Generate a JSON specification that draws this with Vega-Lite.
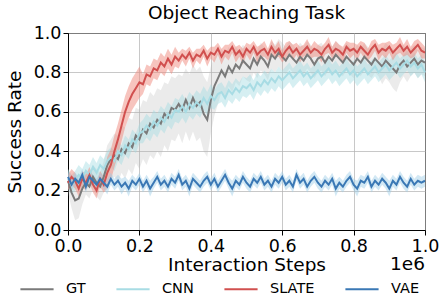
{
"$schema": "https://vega.github.io/schema/vega-lite/v6.json",
"width": 357, "height": 197,
"padding": {"left": 5, "top": 3, "right": 0, "bottom": 0},
"title": {"text": "Object Reaching Task", "fontSize": 18.5, "fontWeight": "normal", "font": "DejaVu Sans", "color": "black", "offset": 2},
"data": {"values": [
{"s":"GT","x":0,"m":0.25,"l":0.19,"h":0.31},{"s":"GT","x":0.01,"m":0.19,"l":0.11,"h":0.27},{"s":"GT","x":0.02,"m":0.15,"l":0.05,"h":0.25},{"s":"GT","x":0.03,"m":0.16,"l":0.06,"h":0.26},{"s":"GT","x":0.04,"m":0.21,"l":0.13,"h":0.29},{"s":"GT","x":0.05,"m":0.24,"l":0.18,"h":0.30},{"s":"GT","x":0.06,"m":0.22,"l":0.16,"h":0.28},{"s":"GT","x":0.07,"m":0.27,"l":0.21,"h":0.33},{"s":"GT","x":0.08,"m":0.24,"l":0.17,"h":0.31},{"s":"GT","x":0.09,"m":0.22,"l":0.15,"h":0.29},
{"s":"GT","x":0.10,"m":0.27,"l":0.19,"h":0.35},{"s":"GT","x":0.11,"m":0.33,"l":0.23,"h":0.43},{"s":"GT","x":0.12,"m":0.36,"l":0.26,"h":0.46},{"s":"GT","x":0.13,"m":0.38,"l":0.27,"h":0.49},{"s":"GT","x":0.14,"m":0.36,"l":0.24,"h":0.48},{"s":"GT","x":0.15,"m":0.41,"l":0.29,"h":0.53},{"s":"GT","x":0.16,"m":0.39,"l":0.26,"h":0.52},{"s":"GT","x":0.17,"m":0.44,"l":0.31,"h":0.57},{"s":"GT","x":0.18,"m":0.42,"l":0.28,"h":0.56},{"s":"GT","x":0.19,"m":0.48,"l":0.34,"h":0.62},
{"s":"GT","x":0.20,"m":0.46,"l":0.31,"h":0.61},{"s":"GT","x":0.21,"m":0.51,"l":0.36,"h":0.66},{"s":"GT","x":0.22,"m":0.49,"l":0.33,"h":0.65},{"s":"GT","x":0.23,"m":0.54,"l":0.38,"h":0.70},{"s":"GT","x":0.24,"m":0.52,"l":0.36,"h":0.68},{"s":"GT","x":0.25,"m":0.56,"l":0.40,"h":0.72},{"s":"GT","x":0.26,"m":0.54,"l":0.37,"h":0.71},{"s":"GT","x":0.27,"m":0.59,"l":0.43,"h":0.75},{"s":"GT","x":0.28,"m":0.57,"l":0.40,"h":0.74},{"s":"GT","x":0.29,"m":0.62,"l":0.46,"h":0.78},
{"s":"GT","x":0.30,"m":0.61,"l":0.45,"h":0.77},{"s":"GT","x":0.31,"m":0.64,"l":0.49,"h":0.79},{"s":"GT","x":0.32,"m":0.61,"l":0.44,"h":0.78},{"s":"GT","x":0.33,"m":0.66,"l":0.50,"h":0.82},{"s":"GT","x":0.34,"m":0.62,"l":0.45,"h":0.79},{"s":"GT","x":0.35,"m":0.67,"l":0.50,"h":0.84},{"s":"GT","x":0.36,"m":0.63,"l":0.45,"h":0.81},{"s":"GT","x":0.37,"m":0.65,"l":0.47,"h":0.83},{"s":"GT","x":0.38,"m":0.59,"l":0.40,"h":0.78},{"s":"GT","x":0.39,"m":0.56,"l":0.37,"h":0.75},
{"s":"GT","x":0.40,"m":0.66,"l":0.49,"h":0.83},{"s":"GT","x":0.41,"m":0.73,"l":0.58,"h":0.88},{"s":"GT","x":0.42,"m":0.77,"l":0.64,"h":0.90},{"s":"GT","x":0.43,"m":0.81,"l":0.70,"h":0.92},{"s":"GT","x":0.44,"m":0.78,"l":0.67,"h":0.89},{"s":"GT","x":0.45,"m":0.83,"l":0.73,"h":0.93},{"s":"GT","x":0.46,"m":0.80,"l":0.70,"h":0.90},{"s":"GT","x":0.47,"m":0.84,"l":0.75,"h":0.93},{"s":"GT","x":0.48,"m":0.82,"l":0.73,"h":0.91},{"s":"GT","x":0.49,"m":0.86,"l":0.78,"h":0.94},
{"s":"GT","x":0.50,"m":0.84,"l":0.76,"h":0.92},{"s":"GT","x":0.51,"m":0.82,"l":0.75,"h":0.89},{"s":"GT","x":0.52,"m":0.87,"l":0.80,"h":0.94},{"s":"GT","x":0.53,"m":0.84,"l":0.77,"h":0.91},{"s":"GT","x":0.54,"m":0.88,"l":0.81,"h":0.95},{"s":"GT","x":0.55,"m":0.86,"l":0.79,"h":0.93},{"s":"GT","x":0.56,"m":0.83,"l":0.76,"h":0.90},{"s":"GT","x":0.57,"m":0.89,"l":0.82,"h":0.96},{"s":"GT","x":0.58,"m":0.87,"l":0.80,"h":0.94},{"s":"GT","x":0.59,"m":0.90,"l":0.83,"h":0.97},
{"s":"GT","x":0.60,"m":0.88,"l":0.81,"h":0.95},{"s":"GT","x":0.61,"m":0.86,"l":0.79,"h":0.93},{"s":"GT","x":0.62,"m":0.89,"l":0.82,"h":0.96},{"s":"GT","x":0.63,"m":0.87,"l":0.80,"h":0.94},{"s":"GT","x":0.64,"m":0.85,"l":0.78,"h":0.92},{"s":"GT","x":0.65,"m":0.88,"l":0.81,"h":0.95},{"s":"GT","x":0.66,"m":0.86,"l":0.79,"h":0.93},{"s":"GT","x":0.67,"m":0.89,"l":0.82,"h":0.96},{"s":"GT","x":0.68,"m":0.87,"l":0.80,"h":0.94},{"s":"GT","x":0.69,"m":0.84,"l":0.77,"h":0.91},
{"s":"GT","x":0.70,"m":0.87,"l":0.80,"h":0.94},{"s":"GT","x":0.71,"m":0.88,"l":0.81,"h":0.95},{"s":"GT","x":0.72,"m":0.85,"l":0.78,"h":0.92},{"s":"GT","x":0.73,"m":0.88,"l":0.81,"h":0.95},{"s":"GT","x":0.74,"m":0.86,"l":0.79,"h":0.93},{"s":"GT","x":0.75,"m":0.89,"l":0.82,"h":0.96},{"s":"GT","x":0.76,"m":0.87,"l":0.80,"h":0.94},{"s":"GT","x":0.77,"m":0.85,"l":0.78,"h":0.92},{"s":"GT","x":0.78,"m":0.88,"l":0.81,"h":0.95},{"s":"GT","x":0.79,"m":0.86,"l":0.79,"h":0.93},
{"s":"GT","x":0.80,"m":0.84,"l":0.77,"h":0.91},{"s":"GT","x":0.81,"m":0.87,"l":0.80,"h":0.94},{"s":"GT","x":0.82,"m":0.85,"l":0.78,"h":0.92},{"s":"GT","x":0.83,"m":0.88,"l":0.81,"h":0.95},{"s":"GT","x":0.84,"m":0.86,"l":0.79,"h":0.93},{"s":"GT","x":0.85,"m":0.84,"l":0.77,"h":0.91},{"s":"GT","x":0.86,"m":0.87,"l":0.80,"h":0.94},{"s":"GT","x":0.87,"m":0.85,"l":0.78,"h":0.92},{"s":"GT","x":0.88,"m":0.83,"l":0.74,"h":0.92},{"s":"GT","x":0.89,"m":0.86,"l":0.77,"h":0.95},
{"s":"GT","x":0.90,"m":0.84,"l":0.75,"h":0.93},{"s":"GT","x":0.91,"m":0.82,"l":0.72,"h":0.92},{"s":"GT","x":0.92,"m":0.80,"l":0.70,"h":0.90},{"s":"GT","x":0.93,"m":0.84,"l":0.75,"h":0.93},{"s":"GT","x":0.94,"m":0.86,"l":0.78,"h":0.94},{"s":"GT","x":0.95,"m":0.83,"l":0.75,"h":0.91},{"s":"GT","x":0.96,"m":0.85,"l":0.78,"h":0.92},{"s":"GT","x":0.97,"m":0.87,"l":0.80,"h":0.94},{"s":"GT","x":0.98,"m":0.84,"l":0.77,"h":0.91},{"s":"GT","x":0.99,"m":0.86,"l":0.79,"h":0.93},{"s":"GT","x":1.00,"m":0.85,"l":0.78,"h":0.92},
{"s":"CNN","x":0,"m":0.26,"l":0.21,"h":0.31},{"s":"CNN","x":0.01,"m":0.23,"l":0.18,"h":0.28},{"s":"CNN","x":0.02,"m":0.25,"l":0.20,"h":0.30},{"s":"CNN","x":0.03,"m":0.28,"l":0.23,"h":0.33},{"s":"CNN","x":0.04,"m":0.26,"l":0.21,"h":0.31},{"s":"CNN","x":0.05,"m":0.30,"l":0.25,"h":0.35},{"s":"CNN","x":0.06,"m":0.28,"l":0.23,"h":0.33},{"s":"CNN","x":0.07,"m":0.32,"l":0.27,"h":0.37},{"s":"CNN","x":0.08,"m":0.29,"l":0.24,"h":0.34},{"s":"CNN","x":0.09,"m":0.33,"l":0.28,"h":0.38},
{"s":"CNN","x":0.10,"m":0.31,"l":0.26,"h":0.36},{"s":"CNN","x":0.11,"m":0.35,"l":0.30,"h":0.40},{"s":"CNN","x":0.12,"m":0.37,"l":0.32,"h":0.42},{"s":"CNN","x":0.13,"m":0.35,"l":0.30,"h":0.40},{"s":"CNN","x":0.14,"m":0.40,"l":0.35,"h":0.45},{"s":"CNN","x":0.15,"m":0.38,"l":0.33,"h":0.43},{"s":"CNN","x":0.16,"m":0.43,"l":0.38,"h":0.48},{"s":"CNN","x":0.17,"m":0.41,"l":0.36,"h":0.46},{"s":"CNN","x":0.18,"m":0.46,"l":0.41,"h":0.51},{"s":"CNN","x":0.19,"m":0.44,"l":0.39,"h":0.49},
{"s":"CNN","x":0.20,"m":0.49,"l":0.44,"h":0.54},{"s":"CNN","x":0.21,"m":0.50,"l":0.44,"h":0.56},{"s":"CNN","x":0.22,"m":0.53,"l":0.47,"h":0.59},{"s":"CNN","x":0.23,"m":0.51,"l":0.45,"h":0.57},{"s":"CNN","x":0.24,"m":0.55,"l":0.49,"h":0.61},{"s":"CNN","x":0.25,"m":0.53,"l":0.47,"h":0.59},{"s":"CNN","x":0.26,"m":0.57,"l":0.51,"h":0.63},{"s":"CNN","x":0.27,"m":0.55,"l":0.49,"h":0.61},{"s":"CNN","x":0.28,"m":0.59,"l":0.53,"h":0.65},{"s":"CNN","x":0.29,"m":0.57,"l":0.51,"h":0.63},
{"s":"CNN","x":0.30,"m":0.61,"l":0.55,"h":0.67},{"s":"CNN","x":0.31,"m":0.60,"l":0.54,"h":0.66},{"s":"CNN","x":0.32,"m":0.63,"l":0.57,"h":0.69},{"s":"CNN","x":0.33,"m":0.60,"l":0.54,"h":0.66},{"s":"CNN","x":0.34,"m":0.64,"l":0.58,"h":0.70},{"s":"CNN","x":0.35,"m":0.62,"l":0.56,"h":0.68},{"s":"CNN","x":0.36,"m":0.65,"l":0.59,"h":0.71},{"s":"CNN","x":0.37,"m":0.63,"l":0.57,"h":0.69},{"s":"CNN","x":0.38,"m":0.67,"l":0.61,"h":0.73},{"s":"CNN","x":0.39,"m":0.64,"l":0.58,"h":0.70},
{"s":"CNN","x":0.40,"m":0.68,"l":0.62,"h":0.74},{"s":"CNN","x":0.41,"m":0.66,"l":0.61,"h":0.71},{"s":"CNN","x":0.42,"m":0.69,"l":0.64,"h":0.74},{"s":"CNN","x":0.43,"m":0.70,"l":0.65,"h":0.75},{"s":"CNN","x":0.44,"m":0.67,"l":0.62,"h":0.72},{"s":"CNN","x":0.45,"m":0.71,"l":0.66,"h":0.76},{"s":"CNN","x":0.46,"m":0.69,"l":0.64,"h":0.74},{"s":"CNN","x":0.47,"m":0.72,"l":0.67,"h":0.77},{"s":"CNN","x":0.48,"m":0.70,"l":0.65,"h":0.75},{"s":"CNN","x":0.49,"m":0.73,"l":0.68,"h":0.78},
{"s":"CNN","x":0.50,"m":0.72,"l":0.67,"h":0.77},{"s":"CNN","x":0.51,"m":0.74,"l":0.69,"h":0.79},{"s":"CNN","x":0.52,"m":0.71,"l":0.66,"h":0.76},{"s":"CNN","x":0.53,"m":0.75,"l":0.70,"h":0.80},{"s":"CNN","x":0.54,"m":0.73,"l":0.68,"h":0.78},{"s":"CNN","x":0.55,"m":0.76,"l":0.71,"h":0.81},{"s":"CNN","x":0.56,"m":0.74,"l":0.69,"h":0.79},{"s":"CNN","x":0.57,"m":0.77,"l":0.72,"h":0.82},{"s":"CNN","x":0.58,"m":0.75,"l":0.70,"h":0.80},{"s":"CNN","x":0.59,"m":0.78,"l":0.73,"h":0.83},
{"s":"CNN","x":0.60,"m":0.76,"l":0.71,"h":0.81},{"s":"CNN","x":0.61,"m":0.78,"l":0.73,"h":0.83},{"s":"CNN","x":0.62,"m":0.80,"l":0.75,"h":0.85},{"s":"CNN","x":0.63,"m":0.77,"l":0.72,"h":0.82},{"s":"CNN","x":0.64,"m":0.79,"l":0.74,"h":0.84},{"s":"CNN","x":0.65,"m":0.81,"l":0.76,"h":0.86},{"s":"CNN","x":0.66,"m":0.78,"l":0.73,"h":0.83},{"s":"CNN","x":0.67,"m":0.80,"l":0.75,"h":0.85},{"s":"CNN","x":0.68,"m":0.77,"l":0.72,"h":0.82},{"s":"CNN","x":0.69,"m":0.79,"l":0.74,"h":0.84},
{"s":"CNN","x":0.70,"m":0.81,"l":0.76,"h":0.86},{"s":"CNN","x":0.71,"m":0.78,"l":0.73,"h":0.83},{"s":"CNN","x":0.72,"m":0.80,"l":0.75,"h":0.85},{"s":"CNN","x":0.73,"m":0.82,"l":0.77,"h":0.87},{"s":"CNN","x":0.74,"m":0.79,"l":0.74,"h":0.84},{"s":"CNN","x":0.75,"m":0.81,"l":0.76,"h":0.86},{"s":"CNN","x":0.76,"m":0.78,"l":0.73,"h":0.83},{"s":"CNN","x":0.77,"m":0.80,"l":0.75,"h":0.85},{"s":"CNN","x":0.78,"m":0.82,"l":0.77,"h":0.87},{"s":"CNN","x":0.79,"m":0.79,"l":0.74,"h":0.84},
{"s":"CNN","x":0.80,"m":0.81,"l":0.76,"h":0.86},{"s":"CNN","x":0.81,"m":0.78,"l":0.73,"h":0.83},{"s":"CNN","x":0.82,"m":0.80,"l":0.75,"h":0.85},{"s":"CNN","x":0.83,"m":0.82,"l":0.77,"h":0.87},{"s":"CNN","x":0.84,"m":0.79,"l":0.74,"h":0.84},{"s":"CNN","x":0.85,"m":0.81,"l":0.76,"h":0.86},{"s":"CNN","x":0.86,"m":0.83,"l":0.78,"h":0.88},{"s":"CNN","x":0.87,"m":0.80,"l":0.75,"h":0.85},{"s":"CNN","x":0.88,"m":0.82,"l":0.77,"h":0.87},{"s":"CNN","x":0.89,"m":0.84,"l":0.79,"h":0.89},
{"s":"CNN","x":0.90,"m":0.81,"l":0.76,"h":0.86},{"s":"CNN","x":0.91,"m":0.83,"l":0.78,"h":0.88},{"s":"CNN","x":0.92,"m":0.85,"l":0.80,"h":0.90},{"s":"CNN","x":0.93,"m":0.82,"l":0.77,"h":0.87},{"s":"CNN","x":0.94,"m":0.84,"l":0.79,"h":0.89},{"s":"CNN","x":0.95,"m":0.86,"l":0.81,"h":0.91},{"s":"CNN","x":0.96,"m":0.83,"l":0.78,"h":0.88},{"s":"CNN","x":0.97,"m":0.85,"l":0.80,"h":0.90},{"s":"CNN","x":0.98,"m":0.82,"l":0.77,"h":0.87},{"s":"CNN","x":0.99,"m":0.84,"l":0.79,"h":0.89},{"s":"CNN","x":1.00,"m":0.80,"l":0.75,"h":0.85},
{"s":"SLATE","x":0,"m":0.24,"l":0.20,"h":0.28},{"s":"SLATE","x":0.01,"m":0.27,"l":0.23,"h":0.31},{"s":"SLATE","x":0.02,"m":0.25,"l":0.21,"h":0.29},{"s":"SLATE","x":0.03,"m":0.21,"l":0.17,"h":0.25},{"s":"SLATE","x":0.04,"m":0.26,"l":0.22,"h":0.30},{"s":"SLATE","x":0.05,"m":0.24,"l":0.20,"h":0.28},{"s":"SLATE","x":0.06,"m":0.28,"l":0.24,"h":0.32},{"s":"SLATE","x":0.07,"m":0.23,"l":0.19,"h":0.27},{"s":"SLATE","x":0.08,"m":0.20,"l":0.16,"h":0.24},{"s":"SLATE","x":0.09,"m":0.26,"l":0.22,"h":0.30},
{"s":"SLATE","x":0.10,"m":0.23,"l":0.19,"h":0.27},{"s":"SLATE","x":0.11,"m":0.29,"l":0.21,"h":0.37},{"s":"SLATE","x":0.12,"m":0.33,"l":0.25,"h":0.41},{"s":"SLATE","x":0.13,"m":0.40,"l":0.32,"h":0.48},{"s":"SLATE","x":0.14,"m":0.46,"l":0.38,"h":0.54},{"s":"SLATE","x":0.15,"m":0.53,"l":0.45,"h":0.61},{"s":"SLATE","x":0.16,"m":0.60,"l":0.52,"h":0.68},{"s":"SLATE","x":0.17,"m":0.65,"l":0.57,"h":0.73},{"s":"SLATE","x":0.18,"m":0.69,"l":0.61,"h":0.77},{"s":"SLATE","x":0.19,"m":0.72,"l":0.64,"h":0.80},
{"s":"SLATE","x":0.20,"m":0.75,"l":0.67,"h":0.83},{"s":"SLATE","x":0.21,"m":0.74,"l":0.69,"h":0.79},{"s":"SLATE","x":0.22,"m":0.79,"l":0.74,"h":0.84},{"s":"SLATE","x":0.23,"m":0.78,"l":0.73,"h":0.83},{"s":"SLATE","x":0.24,"m":0.82,"l":0.77,"h":0.87},{"s":"SLATE","x":0.25,"m":0.81,"l":0.76,"h":0.86},{"s":"SLATE","x":0.26,"m":0.85,"l":0.80,"h":0.90},{"s":"SLATE","x":0.27,"m":0.83,"l":0.78,"h":0.88},{"s":"SLATE","x":0.28,"m":0.87,"l":0.82,"h":0.92},{"s":"SLATE","x":0.29,"m":0.84,"l":0.79,"h":0.89},
{"s":"SLATE","x":0.30,"m":0.88,"l":0.83,"h":0.93},{"s":"SLATE","x":0.31,"m":0.86,"l":0.82,"h":0.90},{"s":"SLATE","x":0.32,"m":0.89,"l":0.86,"h":0.92},{"s":"SLATE","x":0.33,"m":0.87,"l":0.83,"h":0.91},{"s":"SLATE","x":0.34,"m":0.90,"l":0.87,"h":0.93},{"s":"SLATE","x":0.35,"m":0.86,"l":0.82,"h":0.90},{"s":"SLATE","x":0.36,"m":0.89,"l":0.86,"h":0.92},{"s":"SLATE","x":0.37,"m":0.88,"l":0.84,"h":0.92},{"s":"SLATE","x":0.38,"m":0.91,"l":0.88,"h":0.94},{"s":"SLATE","x":0.39,"m":0.87,"l":0.83,"h":0.91},
{"s":"SLATE","x":0.40,"m":0.90,"l":0.87,"h":0.93},{"s":"SLATE","x":0.41,"m":0.89,"l":0.85,"h":0.93},{"s":"SLATE","x":0.42,"m":0.92,"l":0.89,"h":0.95},{"s":"SLATE","x":0.43,"m":0.88,"l":0.84,"h":0.92},{"s":"SLATE","x":0.44,"m":0.91,"l":0.88,"h":0.94},{"s":"SLATE","x":0.45,"m":0.90,"l":0.86,"h":0.94},{"s":"SLATE","x":0.46,"m":0.93,"l":0.90,"h":0.96},{"s":"SLATE","x":0.47,"m":0.89,"l":0.85,"h":0.93},{"s":"SLATE","x":0.48,"m":0.91,"l":0.88,"h":0.94},{"s":"SLATE","x":0.49,"m":0.88,"l":0.84,"h":0.92},
{"s":"SLATE","x":0.50,"m":0.92,"l":0.89,"h":0.95},{"s":"SLATE","x":0.51,"m":0.90,"l":0.86,"h":0.94},{"s":"SLATE","x":0.52,"m":0.93,"l":0.90,"h":0.96},{"s":"SLATE","x":0.53,"m":0.89,"l":0.85,"h":0.93},{"s":"SLATE","x":0.54,"m":0.91,"l":0.88,"h":0.94},{"s":"SLATE","x":0.55,"m":0.92,"l":0.88,"h":0.96},{"s":"SLATE","x":0.56,"m":0.89,"l":0.86,"h":0.92},{"s":"SLATE","x":0.57,"m":0.93,"l":0.89,"h":0.97},{"s":"SLATE","x":0.58,"m":0.90,"l":0.87,"h":0.93},{"s":"SLATE","x":0.59,"m":0.92,"l":0.88,"h":0.96},
{"s":"SLATE","x":0.60,"m":0.88,"l":0.85,"h":0.91},{"s":"SLATE","x":0.61,"m":0.91,"l":0.87,"h":0.95},{"s":"SLATE","x":0.62,"m":0.93,"l":0.90,"h":0.96},{"s":"SLATE","x":0.63,"m":0.90,"l":0.86,"h":0.94},{"s":"SLATE","x":0.64,"m":0.92,"l":0.89,"h":0.95},{"s":"SLATE","x":0.65,"m":0.89,"l":0.85,"h":0.93},{"s":"SLATE","x":0.66,"m":0.91,"l":0.88,"h":0.94},{"s":"SLATE","x":0.67,"m":0.93,"l":0.89,"h":0.97},{"s":"SLATE","x":0.68,"m":0.90,"l":0.87,"h":0.93},{"s":"SLATE","x":0.69,"m":0.92,"l":0.88,"h":0.96},
{"s":"SLATE","x":0.70,"m":0.91,"l":0.88,"h":0.94},{"s":"SLATE","x":0.71,"m":0.89,"l":0.85,"h":0.93},{"s":"SLATE","x":0.72,"m":0.92,"l":0.89,"h":0.95},{"s":"SLATE","x":0.73,"m":0.94,"l":0.90,"h":0.98},{"s":"SLATE","x":0.74,"m":0.90,"l":0.87,"h":0.93},{"s":"SLATE","x":0.75,"m":0.92,"l":0.88,"h":0.96},{"s":"SLATE","x":0.76,"m":0.91,"l":0.88,"h":0.94},{"s":"SLATE","x":0.77,"m":0.89,"l":0.85,"h":0.93},{"s":"SLATE","x":0.78,"m":0.93,"l":0.90,"h":0.96},{"s":"SLATE","x":0.79,"m":0.91,"l":0.87,"h":0.95},
{"s":"SLATE","x":0.80,"m":0.92,"l":0.89,"h":0.95},{"s":"SLATE","x":0.81,"m":0.90,"l":0.86,"h":0.94},{"s":"SLATE","x":0.82,"m":0.93,"l":0.90,"h":0.96},{"s":"SLATE","x":0.83,"m":0.91,"l":0.87,"h":0.95},{"s":"SLATE","x":0.84,"m":0.89,"l":0.86,"h":0.92},{"s":"SLATE","x":0.85,"m":0.92,"l":0.88,"h":0.96},{"s":"SLATE","x":0.86,"m":0.94,"l":0.91,"h":0.97},{"s":"SLATE","x":0.87,"m":0.90,"l":0.86,"h":0.94},{"s":"SLATE","x":0.88,"m":0.92,"l":0.89,"h":0.95},{"s":"SLATE","x":0.89,"m":0.91,"l":0.87,"h":0.95},
{"s":"SLATE","x":0.90,"m":0.93,"l":0.90,"h":0.96},{"s":"SLATE","x":0.91,"m":0.90,"l":0.86,"h":0.94},{"s":"SLATE","x":0.92,"m":0.92,"l":0.89,"h":0.95},{"s":"SLATE","x":0.93,"m":0.94,"l":0.90,"h":0.98},{"s":"SLATE","x":0.94,"m":0.91,"l":0.88,"h":0.94},{"s":"SLATE","x":0.95,"m":0.93,"l":0.89,"h":0.97},{"s":"SLATE","x":0.96,"m":0.90,"l":0.87,"h":0.93},{"s":"SLATE","x":0.97,"m":0.92,"l":0.88,"h":0.96},{"s":"SLATE","x":0.98,"m":0.94,"l":0.91,"h":0.97},{"s":"SLATE","x":0.99,"m":0.91,"l":0.87,"h":0.95},{"s":"SLATE","x":1.00,"m":0.90,"l":0.87,"h":0.93},
{"s":"VAE","x":0,"m":0.27,"l":0.24,"h":0.30},{"s":"VAE","x":0.01,"m":0.23,"l":0.20,"h":0.26},{"s":"VAE","x":0.02,"m":0.26,"l":0.23,"h":0.29},{"s":"VAE","x":0.03,"m":0.24,"l":0.21,"h":0.27},{"s":"VAE","x":0.04,"m":0.28,"l":0.25,"h":0.31},{"s":"VAE","x":0.05,"m":0.22,"l":0.19,"h":0.25},{"s":"VAE","x":0.06,"m":0.27,"l":0.24,"h":0.30},{"s":"VAE","x":0.07,"m":0.25,"l":0.22,"h":0.28},{"s":"VAE","x":0.08,"m":0.23,"l":0.20,"h":0.26},{"s":"VAE","x":0.09,"m":0.26,"l":0.23,"h":0.29},
{"s":"VAE","x":0.10,"m":0.24,"l":0.21,"h":0.27},{"s":"VAE","x":0.11,"m":0.22,"l":0.18,"h":0.26},{"s":"VAE","x":0.12,"m":0.26,"l":0.23,"h":0.29},{"s":"VAE","x":0.13,"m":0.23,"l":0.20,"h":0.26},{"s":"VAE","x":0.14,"m":0.25,"l":0.22,"h":0.28},{"s":"VAE","x":0.15,"m":0.22,"l":0.18,"h":0.26},{"s":"VAE","x":0.16,"m":0.24,"l":0.21,"h":0.27},{"s":"VAE","x":0.17,"m":0.21,"l":0.17,"h":0.25},{"s":"VAE","x":0.18,"m":0.25,"l":0.22,"h":0.28},{"s":"VAE","x":0.19,"m":0.23,"l":0.20,"h":0.26},
{"s":"VAE","x":0.20,"m":0.26,"l":0.23,"h":0.29},{"s":"VAE","x":0.21,"m":0.22,"l":0.19,"h":0.25},{"s":"VAE","x":0.22,"m":0.25,"l":0.22,"h":0.28},{"s":"VAE","x":0.23,"m":0.21,"l":0.17,"h":0.25},{"s":"VAE","x":0.24,"m":0.24,"l":0.21,"h":0.27},{"s":"VAE","x":0.25,"m":0.27,"l":0.24,"h":0.30},{"s":"VAE","x":0.26,"m":0.23,"l":0.20,"h":0.26},{"s":"VAE","x":0.27,"m":0.25,"l":0.22,"h":0.28},{"s":"VAE","x":0.28,"m":0.22,"l":0.19,"h":0.25},{"s":"VAE","x":0.29,"m":0.26,"l":0.23,"h":0.29},
{"s":"VAE","x":0.30,"m":0.24,"l":0.21,"h":0.27},{"s":"VAE","x":0.31,"m":0.28,"l":0.25,"h":0.31},{"s":"VAE","x":0.32,"m":0.23,"l":0.20,"h":0.26},{"s":"VAE","x":0.33,"m":0.25,"l":0.22,"h":0.28},{"s":"VAE","x":0.34,"m":0.21,"l":0.17,"h":0.25},{"s":"VAE","x":0.35,"m":0.26,"l":0.23,"h":0.29},{"s":"VAE","x":0.36,"m":0.24,"l":0.21,"h":0.27},{"s":"VAE","x":0.37,"m":0.22,"l":0.19,"h":0.25},{"s":"VAE","x":0.38,"m":0.25,"l":0.22,"h":0.28},{"s":"VAE","x":0.39,"m":0.27,"l":0.24,"h":0.30},
{"s":"VAE","x":0.40,"m":0.23,"l":0.20,"h":0.26},{"s":"VAE","x":0.41,"m":0.26,"l":0.23,"h":0.29},{"s":"VAE","x":0.42,"m":0.22,"l":0.19,"h":0.25},{"s":"VAE","x":0.43,"m":0.25,"l":0.22,"h":0.28},{"s":"VAE","x":0.44,"m":0.28,"l":0.25,"h":0.31},{"s":"VAE","x":0.45,"m":0.24,"l":0.21,"h":0.27},{"s":"VAE","x":0.46,"m":0.21,"l":0.17,"h":0.25},{"s":"VAE","x":0.47,"m":0.25,"l":0.22,"h":0.28},{"s":"VAE","x":0.48,"m":0.23,"l":0.20,"h":0.26},{"s":"VAE","x":0.49,"m":0.27,"l":0.24,"h":0.30},
{"s":"VAE","x":0.50,"m":0.24,"l":0.21,"h":0.27},{"s":"VAE","x":0.51,"m":0.22,"l":0.19,"h":0.25},{"s":"VAE","x":0.52,"m":0.26,"l":0.23,"h":0.29},{"s":"VAE","x":0.53,"m":0.24,"l":0.21,"h":0.27},{"s":"VAE","x":0.54,"m":0.27,"l":0.24,"h":0.30},{"s":"VAE","x":0.55,"m":0.23,"l":0.20,"h":0.26},{"s":"VAE","x":0.56,"m":0.25,"l":0.22,"h":0.28},{"s":"VAE","x":0.57,"m":0.22,"l":0.19,"h":0.25},{"s":"VAE","x":0.58,"m":0.26,"l":0.23,"h":0.29},{"s":"VAE","x":0.59,"m":0.24,"l":0.21,"h":0.27},
{"s":"VAE","x":0.60,"m":0.27,"l":0.24,"h":0.30},{"s":"VAE","x":0.61,"m":0.23,"l":0.20,"h":0.26},{"s":"VAE","x":0.62,"m":0.25,"l":0.22,"h":0.28},{"s":"VAE","x":0.63,"m":0.22,"l":0.19,"h":0.25},{"s":"VAE","x":0.64,"m":0.28,"l":0.25,"h":0.31},{"s":"VAE","x":0.65,"m":0.24,"l":0.21,"h":0.27},{"s":"VAE","x":0.66,"m":0.26,"l":0.23,"h":0.29},{"s":"VAE","x":0.67,"m":0.22,"l":0.19,"h":0.25},{"s":"VAE","x":0.68,"m":0.25,"l":0.22,"h":0.28},{"s":"VAE","x":0.69,"m":0.27,"l":0.24,"h":0.30},
{"s":"VAE","x":0.70,"m":0.24,"l":0.21,"h":0.27},{"s":"VAE","x":0.71,"m":0.22,"l":0.19,"h":0.25},{"s":"VAE","x":0.72,"m":0.25,"l":0.22,"h":0.28},{"s":"VAE","x":0.73,"m":0.23,"l":0.20,"h":0.26},{"s":"VAE","x":0.74,"m":0.26,"l":0.23,"h":0.29},{"s":"VAE","x":0.75,"m":0.21,"l":0.17,"h":0.25},{"s":"VAE","x":0.76,"m":0.24,"l":0.21,"h":0.27},{"s":"VAE","x":0.77,"m":0.22,"l":0.19,"h":0.25},{"s":"VAE","x":0.78,"m":0.25,"l":0.22,"h":0.28},{"s":"VAE","x":0.79,"m":0.27,"l":0.24,"h":0.30},
{"s":"VAE","x":0.80,"m":0.23,"l":0.20,"h":0.26},{"s":"VAE","x":0.81,"m":0.21,"l":0.17,"h":0.25},{"s":"VAE","x":0.82,"m":0.25,"l":0.22,"h":0.28},{"s":"VAE","x":0.83,"m":0.24,"l":0.21,"h":0.27},{"s":"VAE","x":0.84,"m":0.27,"l":0.24,"h":0.30},{"s":"VAE","x":0.85,"m":0.22,"l":0.19,"h":0.25},{"s":"VAE","x":0.86,"m":0.25,"l":0.22,"h":0.28},{"s":"VAE","x":0.87,"m":0.23,"l":0.20,"h":0.26},{"s":"VAE","x":0.88,"m":0.26,"l":0.23,"h":0.29},{"s":"VAE","x":0.89,"m":0.24,"l":0.21,"h":0.27},
{"s":"VAE","x":0.90,"m":0.21,"l":0.17,"h":0.25},{"s":"VAE","x":0.91,"m":0.25,"l":0.22,"h":0.28},{"s":"VAE","x":0.92,"m":0.23,"l":0.20,"h":0.26},{"s":"VAE","x":0.93,"m":0.27,"l":0.24,"h":0.30},{"s":"VAE","x":0.94,"m":0.24,"l":0.21,"h":0.27},{"s":"VAE","x":0.95,"m":0.22,"l":0.19,"h":0.25},{"s":"VAE","x":0.96,"m":0.26,"l":0.23,"h":0.29},{"s":"VAE","x":0.97,"m":0.23,"l":0.20,"h":0.26},{"s":"VAE","x":0.98,"m":0.25,"l":0.22,"h":0.28},{"s":"VAE","x":0.99,"m":0.24,"l":0.21,"h":0.27},{"s":"VAE","x":1.00,"m":0.25,"l":0.22,"h":0.28}
]},
"layer": [
{"transform": [{"filter": "datum.s === 'GT'"}], "mark": {"type": "area", "color": "#b8b8b8", "opacity": 0.28},
 "encoding": {"x": {"field": "x", "type": "quantitative", "scale": {"domain": [0, 1], "nice": false, "zero": false}, "title": "Interaction Steps", "axis": {"titlePadding": 1}},
  "y": {"field": "l", "type": "quantitative", "scale": {"domain": [0, 1], "nice": false}, "title": "Success Rate", "axis": {"titlePadding": 9}}, "y2": {"field": "h"}}},
{"transform": [{"filter": "datum.s === 'CNN'"}], "mark": {"type": "area", "color": "#a5dbe3", "opacity": 0.45},
 "encoding": {"x": {"field": "x", "type": "quantitative"}, "y": {"field": "l", "type": "quantitative"}, "y2": {"field": "h"}}},
{"transform": [{"filter": "datum.s === 'SLATE'"}], "mark": {"type": "area", "color": "#f08a7e", "opacity": 0.5},
 "encoding": {"x": {"field": "x", "type": "quantitative"}, "y": {"field": "l", "type": "quantitative"}, "y2": {"field": "h"}}},
{"transform": [{"filter": "datum.s === 'VAE'"}], "mark": {"type": "area", "color": "#9ccde6", "opacity": 0.45},
 "encoding": {"x": {"field": "x", "type": "quantitative"}, "y": {"field": "l", "type": "quantitative"}, "y2": {"field": "h"}}},
{"mark": {"type": "line", "strokeWidth": 2},
 "encoding": {
  "x": {"field": "x", "type": "quantitative"},
  "y": {"field": "m", "type": "quantitative"},
  "color": {"field": "s", "type": "nominal", "scale": {"domain": ["GT", "CNN", "SLATE", "VAE"], "range": ["#7a7a7a", "#a8dce4", "#d1504f", "#3a78b5"]},
   "legend": {"title": null, "orient": "none", "legendX": -49, "legendY": 238, "direction": "horizontal", "symbolType": "stroke", "symbolStrokeWidth": 2, "symbolSize": 1100, "labelFontSize": 14.5, "labelFont": "DejaVu Sans", "labelColor": "black", "labelOffset": 11, "columnPadding": 26}}
 }},
{"data": {"values": [{"t": "1e6"}]},
 "mark": {"type": "text", "align": "right", "baseline": "middle", "dy": 34, "fontSize": 18.5, "font": "DejaVu Sans", "color": "black"},
 "encoding": {"x": {"datum": 1, "type": "quantitative"}, "y": {"datum": 0, "type": "quantitative"}, "text": {"field": "t"}}}
],
"config": {
 "view": {"stroke": "black", "strokeWidth": 1},
 "axis": {"labelFont": "DejaVu Sans", "titleFont": "DejaVu Sans", "labelFontSize": 17.5, "titleFontSize": 18.5, "titleFontWeight": "normal", "labelColor": "black", "titleColor": "black", "domainColor": "black", "tickColor": "black", "tickSize": 5, "labelPadding": 2, "gridColor": "#b0b0b0", "gridOpacity": 0.7, "labelOverlap": false, "labelFlush": false, "format": ".1f", "tickCount": 5, "titlePadding": 3}
}
}
